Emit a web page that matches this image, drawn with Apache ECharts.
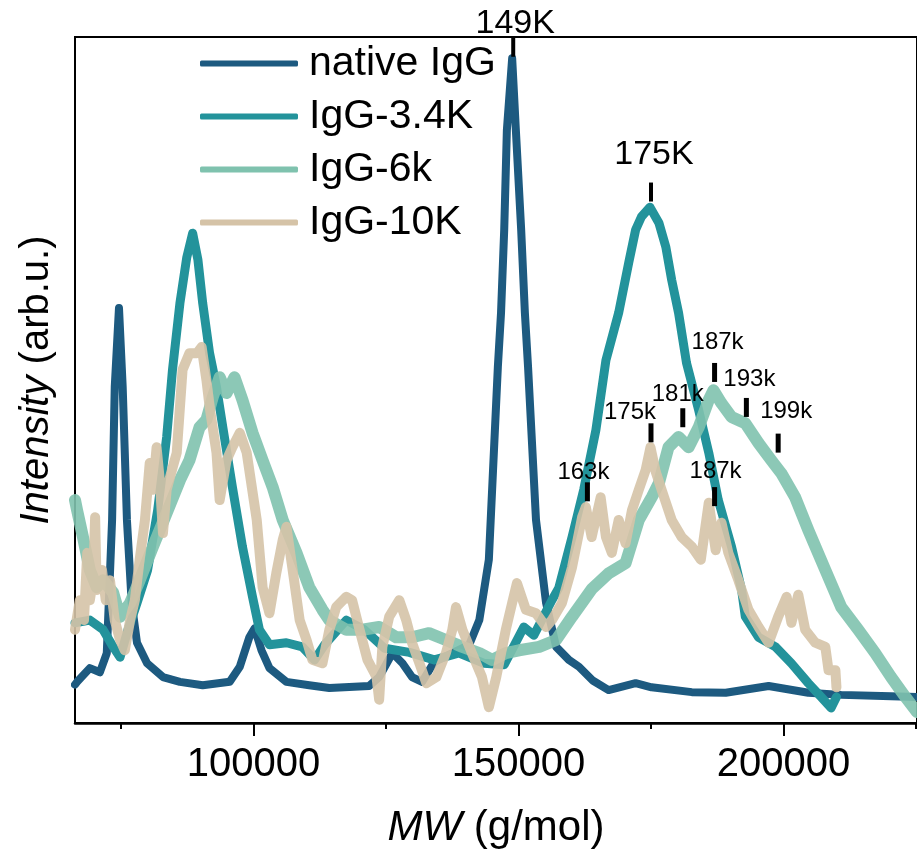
<!DOCTYPE html>
<html>
<head>
<meta charset="utf-8">
<script src="https://cdn.jsdelivr.net/npm/echarts@6/dist/echarts.min.js"></script>
<style>html,body{margin:0;padding:0;background:#fff}#c{width:917px;height:859px}</style>
</head>
<body>
<div id="c"></div>
<script>
// ---- data (MW g/mol, intensity arb.u.) ----
const seriesNames = ['native IgG', 'IgG-3.4K', 'IgG-6k', 'IgG-10K'];
const majorTicks = [100000, 150000, 200000];
const minorTicks = [75000, 125000, 175000, 225000];

const nativeIgG = [
  [66300,5.6],[66700,6.0],[69100,8.0],[71000,7.4],[72300,10.2],[73300,29.6],[73800,49.0],[74600,60.5],
  [75300,49.0],[76100,29.6],[77000,17.5],[78000,11.7],[79900,8.7],[82900,6.7],[86100,6.0],[90400,5.5],
  [95500,6.0],[97400,8.2],[99200,12.5],[100200,13.8],[101500,10.6],[103000,8.0],[106200,6.0],[110500,5.5],
  [114300,5.1],[121800,5.4],[123700,6.7],[126200,10.2],[128100,8.7],[129900,6.7],[131800,6.0],[134100,8.9],
  [137800,10.3],[140700,11.4],[142600,15.0],[144400,23.8],[146100,51.9],[146700,59.8],[147300,71.9],
  [147800,86.4],[148800,96.9],[149500,86.4],[150500,71.9],[151200,59.8],[151800,51.9],[153300,29.6],
  [155200,17.5],[157100,11.1],[159500,9.2],[161400,8.2],[164000,6.2],[167000,4.8],[172100,5.8],[175100,5.2],
  [182700,4.5],[189100,4.4],[197200,5.4],[204700,4.4],[210900,4.1],[220300,3.9],[225200,3.8]
];
const igg34K = [
  [66300,14.6],[69100,15.0],[71600,13.6],[73500,11.1],[74800,9.6],[76300,13.6],[78000,17.5],[80000,22.3],
  [81900,31.0],[83600,41.7],[84700,51.5],[86100,61.2],[87400,67.9],[88500,71.4],[89500,67.5],[90400,61.2],
  [91700,53.9],[93000,49.0],[94200,43.1],[96000,34.4],[97900,25.7],[99800,18.4],[101100,13.6],[103000,11.4],
  [106200,11.7],[109200,11.1],[111500,9.2],[113400,11.4],[117500,15.0],[120900,13.6],[124700,10.9],
  [129400,10.3],[134100,9.2],[138800,10.2],[143500,8.7],[147300,8.5],[151000,14.0],[152900,12.8],
  [156300,17.9],[157600,19.7],[160100,27.1],[162300,34.0],[164600,42.7],[166500,52.9],
  [168900,59.8],[170800,67.1],[172100,71.9],[173200,73.8],[174800,75.2],[176500,72.9],[177800,69.4],
  [178900,64.6],[180200,59.8],[181700,52.5],[184000,45.6],[185900,39.4],[187700,32.5],[190200,25.7],
  [192100,19.4],[192800,15.5],[195300,12.5],[198500,11.1],[201500,8.7],[204700,5.8],[207100,3.8],
  [209000,2.2],[210000,3.8]
];
const igg6k = [
  [66300,32.5],[66700,31.0],[67800,27.1],[69100,22.3],[70400,19.8],[71600,20.8],[73500,19.0],[74800,15.5],
  [76700,17.5],[78500,20.8],[81000,25.7],[83600,30.6],[86100,35.4],[87900,38.3],[89800,43.1],[91100,44.2],
  [92300,47.5],[93600,50.4],[94900,48.1],[96400,50.4],[97900,47.1],[99800,42.3],[101700,38.3],[103600,34.4],
  [105500,29.6],[108100,24.8],[110500,19.8],[113000,16.5],[114300,15.0],[117500,13.6],[120500,13.6],
  [123700,14.0],[126900,12.5],[129900,12.5],[133100,13.1],[136300,12.1],[139400,11.1],[142600,10.2],
  [145000,9.2],[147600,10.2],[150100,10.6],[153900,11.1],[157100,12.1],[160100,15.5],[163800,19.5],
  [167000,21.8],[170200,23.3],[172700,29.6],[175200,33.0],[176500,35.0],[178300,40.2],[180200,41.7],[182100,40.2],
  [184000,43.1],[185900,47.1],[186800,48.5],[188300,46.6],[190200,44.6],[192800,43.7],[195300,40.8],
  [197700,38.3],[199600,36.4],[202200,32.9],[204700,28.1],[207900,22.3],[210900,16.9],[214100,13.6],
  [217300,10.2],[220300,6.7],[223000,3.8],[225200,1.6]
];
const igg10K = [
  [66300,13.6],[67200,17.9],[68000,15.0],[68600,24.8],[69100,17.9],[69700,20.8],[70100,30.0],[70400,19.4],
  [71400,22.3],[72100,17.9],[72900,20.8],[73800,15.0],[74800,12.1],[75700,10.6],[76700,15.0],[77600,17.9],
  [78500,23.8],[79500,29.6],[80400,37.9],[81000,34.0],[81700,40.2],[82300,35.4],[82900,27.7],[83600,34.0],
  [84600,36.9],[85500,39.4],[86600,51.5],[87900,53.9],[89300,53.9],[90200,54.8],[91100,50.0],[91700,46.1],
  [93000,39.4],[93600,32.5],[94900,38.3],[96000,40.2],[97400,42.3],[98700,39.4],[100600,29.6],[101700,19.8],
  [103000,16.0],[104300,21.9],[105500,26.7],[106200,28.6],[107300,22.7],[108700,15.0],[110000,12.1],
  [111100,9.2],[113000,8.7],[114300,13.6],[115600,16.9],[117500,18.4],[118600,17.9],[120000,13.6],
  [121500,9.2],[123200,6.7],[123700,3.4],[124300,11.1],[125600,15.5],[127500,17.9],[128800,15.0],
  [129900,11.7],[131300,8.7],[132600,5.8],[134500,6.7],[136300,10.2],[137500,13.6],[138200,16.9],
  [139400,13.6],[141200,10.2],[143100,6.7],[144400,2.3],[145800,6.7],[147600,13.6],[148800,17.5],
  [149700,20.4],[151400,16.5],[153300,16.0],[155200,14.0],[156300,15.0],[158200,17.5],[160100,22.7],
  [162000,30.0],[162700,31.5],[163800,27.1],[165500,32.9],[166500,27.1],[167600,24.8],[168900,29.6],
  [170200,26.2],[171400,31.0],[172700,34.0],[174000,36.9],[174900,40.2],[175900,36.6],[177000,34.0],
  [178900,29.6],[180800,27.1],[182700,25.7],[184400,23.8],[185900,32.1],[187200,25.2],[188300,29.2],
  [189600,24.8],[191500,20.8],[193400,16.5],[195300,14.0],[197200,11.7],[199000,15.5],[200600,18.4],
  [201500,14.6],[202800,18.7],[204100,13.6],[206000,11.7],[207900,11.1],[208500,7.7],[209800,7.7],
  [210000,5.2]
];

// peak annotations: label, MW, intensity of marker centre
const annoLabels = ['149K', '175K', '187k', '193k', '199k', '181k', '175k', '163k', '187k'];
const annoMW     = [149000, 175000, 187000, 193000, 199000, 181000, 175000, 163000, 187000];
const annoInt    = [98.5, 77.4, 51.1, 46.0, 40.8, 44.5, 42.3, 33.7, 33.0];

// ---- styling ----
const FONT = 'Liberation Sans, Arial, sans-serif';
const colors = ['#1d5a80', '#23939b', '#7fc2ae', '#d5c3a7'];
const widths = [8, 9, 12, 10];
const opac = [1, 1, 0.9, 0.9];
const annoOffsets = [[2,-24],[3,-37],[3,-30],[3,-28],[8,-32],[-5,-23],[-21,-20],[-4,-19],[1,-25]];
const annoBig = [true, true, false, false, false, false, false, false, false];

const lineData = [nativeIgG, igg34K, igg6k, igg10K];
const series = lineData.map((d, i) => ({
  name: seriesNames[i], type: 'line', data: d, showSymbol: false, symbol: 'none',
  lineStyle: { color: colors[i], width: widths[i], opacity: opac[i], join: 'round', cap: 'round' },
  itemStyle: { color: colors[i] }, z: 2 + i, silent: true
}));
series.push({
  name: 'anno', type: 'scatter', z: 20, silent: true,
  data: annoLabels.map((t, i) => ({
    name: t, value: [annoMW[i], annoInt[i]],
    symbolSize: annoBig[i] ? [4, 19] : [5, 19],
    label: { show: true, position: 'inside', offset: annoOffsets[i], formatter: t,
      fontSize: annoBig[i] ? 34 : 24, color: '#000', fontFamily: FONT, opacity: 1 }
  })),
  symbol: 'rect', itemStyle: { color: '#000', opacity: 1 }
});

const chart = echarts.init(document.getElementById('c'), null, { renderer: 'canvas' });
chart.setOption({
  animation: false,
  backgroundColor: '#fff',
  grid: { left: 75, right: -2, top: 37, bottom: 136, show: true, borderColor: '#000', borderWidth: 2, backgroundColor: 'transparent' },
  legend: {
    data: seriesNames, orient: 'vertical', left: 200, top: 43, padding: 0, itemGap: 12,
    itemWidth: 98, itemHeight: 6, icon: 'roundRect',
    textStyle: { fontSize: 41, fontFamily: FONT, color: '#000', padding: [0, 0, 0, 6] }
  },
  xAxis: [{
    type: 'value', min: 66300, max: 225200,
    name: '{i|MW} (g/mol)', nameLocation: 'middle', nameGap: 84,
    nameTextStyle: { fontSize: 42, fontFamily: FONT, color: '#000', rich: { i: { fontStyle: 'italic', fontSize: 42, fontFamily: FONT, color: '#000' } } },
    axisLine: { show: true, lineStyle: { color: '#000', width: 2.5 } },
    axisTick: { show: true, customValues: majorTicks, length: 13, lineStyle: { color: '#000', width: 2 } },
    axisLabel: { show: true, customValues: majorTicks, formatter: v => String(v), fontSize: 40, fontFamily: FONT, color: '#000', margin: 22 },
    splitLine: { show: false }
  }, {
    type: 'value', min: 66300, max: 225200, position: 'bottom',
    axisLine: { show: false },
    axisTick: { show: true, customValues: minorTicks, length: 6, lineStyle: { color: '#000', width: 2 } },
    axisLabel: { show: false }, splitLine: { show: false }
  }],
  yAxis: {
    type: 'value', min: 0, max: 100,
    name: '{i|Intensity} (arb.u.)', nameLocation: 'middle', nameGap: 18, nameRotate: 90,
    nameTextStyle: { fontSize: 40, fontFamily: FONT, color: '#000', rich: { i: { fontStyle: 'italic', fontSize: 40, fontFamily: FONT, color: '#000' } } },
    axisLine: { show: false }, axisTick: { show: false }, axisLabel: { show: false }, splitLine: { show: false }
  },
  series: series
});
</script>
</body>
</html>
